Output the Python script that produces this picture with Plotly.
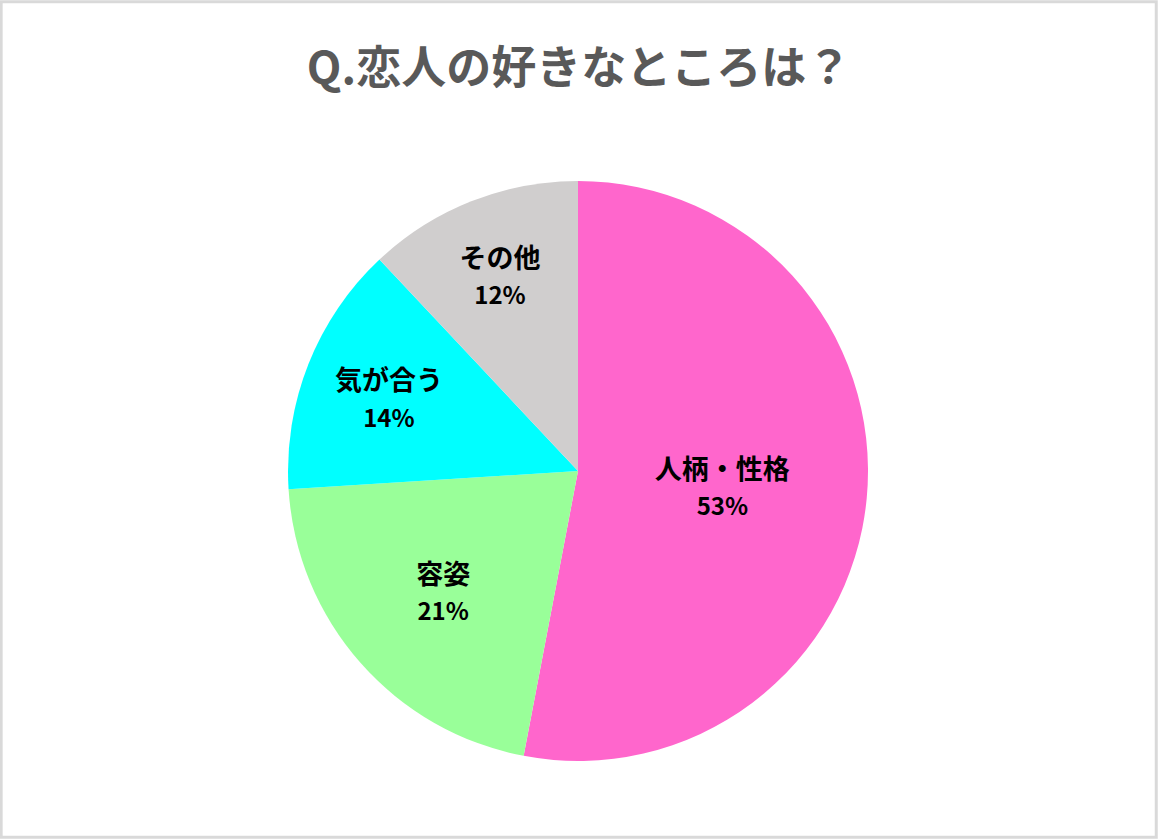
import plotly.graph_objects as go

title_text = "Q.恋人の好きなところは？"
categories = ["人柄・性格", "容姿", "気が合う", "その他"]
values = [53, 21, 14, 12]
colors = ["#FF66CC", "#99FF99", "#00FFFF", "#D0CECE"]

W, H = 1158, 839
cx, cy, r = 578, 471, 290

fig = go.Figure(go.Pie(
    labels=categories,
    values=values,
    sort=False,
    direction="clockwise",
    rotation=0,
    marker=dict(colors=colors, line=dict(width=0)),
    texttemplate="<span style='font-size:27px'><b>%{label}</b></span><br><b>%{percent:.0%}</b>",
    textposition="inside",
    insidetextorientation="horizontal",
    textfont=dict(family="Noto Sans CJK JP", size=24, color="#000000"),
    hoverinfo="label+percent",
    showlegend=False,
    domain=dict(x=[(cx - r) / W, (cx + r) / W], y=[(H - cy - r) / H, (H - cy + r) / H]),
))

fig.update_layout(
    width=W, height=H,
    margin=dict(l=0, r=0, t=0, b=0),
    paper_bgcolor="white",
    plot_bgcolor="white",
    title=dict(
        text="<b>" + title_text + "</b>",
        x=0.5, xanchor="center",
        y=1 - 68 / H, yanchor="middle",
        font=dict(family="Noto Sans CJK JP", size=45, color="#595959"),
    ),
    shapes=[dict(
        type="rect", xref="paper", yref="paper",
        x0=0.001, y0=0.002, x1=0.9985, y1=0.998,
        line=dict(color="#D9D9D9", width=3),
        fillcolor="rgba(0,0,0,0)",
    )],
)

post = """
document.body.style.margin='0';
document.body.style.overflow='hidden';
document.querySelectorAll('.pielayer text.slicetext').forEach(function(t){
  var lines = t.querySelectorAll('tspan.line');
  if (lines.length === 2) {
    lines[0].setAttribute('dy', '-0.1em');
    lines[1].setAttribute('dy', '1.42em');
  }
});
"""

fig.write_html(
    "out.html",
    config={"displayModeBar": False},
    post_script=post,
)
